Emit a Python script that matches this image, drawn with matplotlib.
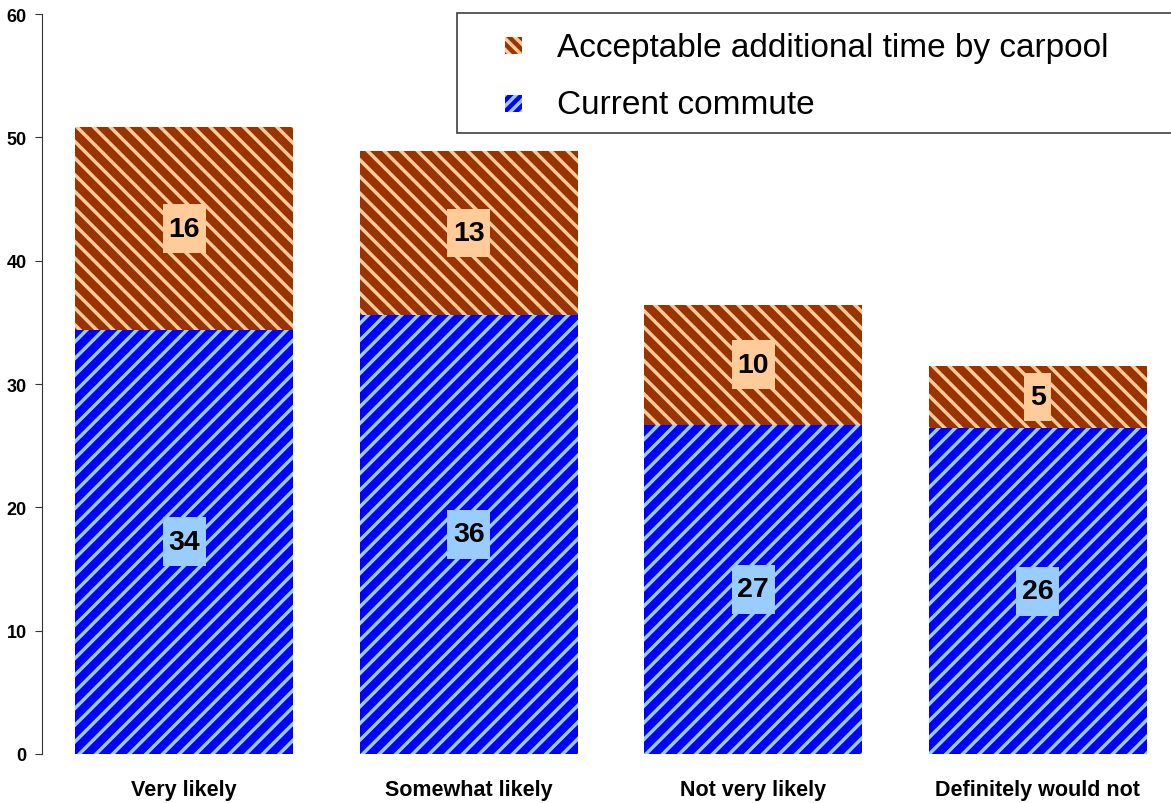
import numpy as np
import matplotlib
matplotlib.use("Agg")
import matplotlib.pyplot as plt
from matplotlib.patches import Rectangle
from matplotlib.path import Path

plt.rcParams.update({
    "font.family": ["Liberation Sans", "DejaVu Sans"],
    "hatch.linewidth": 2.5,
})

categories = ["Very likely", "Somewhat likely", "Not very likely", "Definitely would not"]
commute = [34.4, 35.6, 26.7, 26.4]
extra = [16.4, 13.3, 9.7, 5.1]
series_names = ["Acceptable additional time by carpool", "Current commute"]

BLUE = "#0000ff"; BLUE_LT = "#99ccff"
RUST = "#993300"; PEACH = "#ffcc99"

W, H = 1171, 804
fig = plt.figure(figsize=(W / 100, H / 100), dpi=100)
ax = fig.add_axes([42 / W, 1 - 755 / H, 1138 / W, 740 / H])


def tall_box(x0, y0, width, height, mutation_size):
    # label background: a little side padding, more above and below
    px, py = 0.2 * mutation_size, 0.4 * mutation_size
    x0, y0 = x0 - px, y0 - py
    x1, y1 = x0 + width + 2 * px, y0 + height + 2 * py
    return Path([(x0, y0), (x1, y0), (x1, y1), (x0, y1), (x0, y0)], closed=True)


x = np.arange(len(categories))
ax.bar(x, commute, width=0.766, color=BLUE, edgecolor=BLUE_LT, lw=0, hatch="//")
ax.bar(x, extra, width=0.766, bottom=commute, color=RUST, edgecolor=PEACH, lw=0, hatch="\\\\")

for xi, c, e in zip(x, commute, extra):
    ax.text(xi, c / 2, f"{c:.0f}", ha="center", va="center", fontsize=20.5, fontweight="bold",
            bbox=dict(boxstyle=tall_box, fc=BLUE_LT, ec="none"))
    ax.text(xi, c + e / 2, f"{e:.0f}", ha="center", va="center", fontsize=20.5, fontweight="bold",
            bbox=dict(boxstyle=tall_box, fc=PEACH, ec="none"))

ax.set_xlim(-0.5, 3.5)
ax.set_ylim(0, 60)
ax.set_yticks(range(0, 61, 10))
ax.set_xticks(x)
ax.set_xticklabels(categories, fontsize=15.5, fontweight="bold")
ax.set_yticklabels([str(v) for v in range(0, 61, 10)], fontsize=13, fontweight="bold")
ax.tick_params(axis="x", length=0, pad=18)
ax.tick_params(axis="y", length=5, direction="out", pad=6, color="#333333")
for s in ["top", "right", "bottom"]:
    ax.spines[s].set_visible(False)
ax.spines["left"].set_color("#333333")

# legend box drawn in figure pixels
def fx(px): return px / W
def fy(py): return 1 - py / H
fig.patches.append(Rectangle((fx(457), fy(134)), fx(730), 120 / H, transform=fig.transFigure,
                             fc="white", ec="#404040", lw=1.2, zorder=5))
for (name, fc, hc, hp), cy in zip([(series_names[0], RUST, PEACH, "\\\\\\"),
                                   (series_names[1], BLUE, BLUE_LT, "///")], [46, 104]):
    fig.patches.append(Rectangle((fx(505), fy(cy + 8.5)), 17 / W, 17 / H, transform=fig.transFigure,
                                 fc=fc, ec=hc, lw=0, hatch=hp, zorder=6))
    fig.text(fx(557), fy(cy + 2), name, fontsize=24, va="center", ha="left", zorder=7)

fig.savefig("out.png", dpi=100)
